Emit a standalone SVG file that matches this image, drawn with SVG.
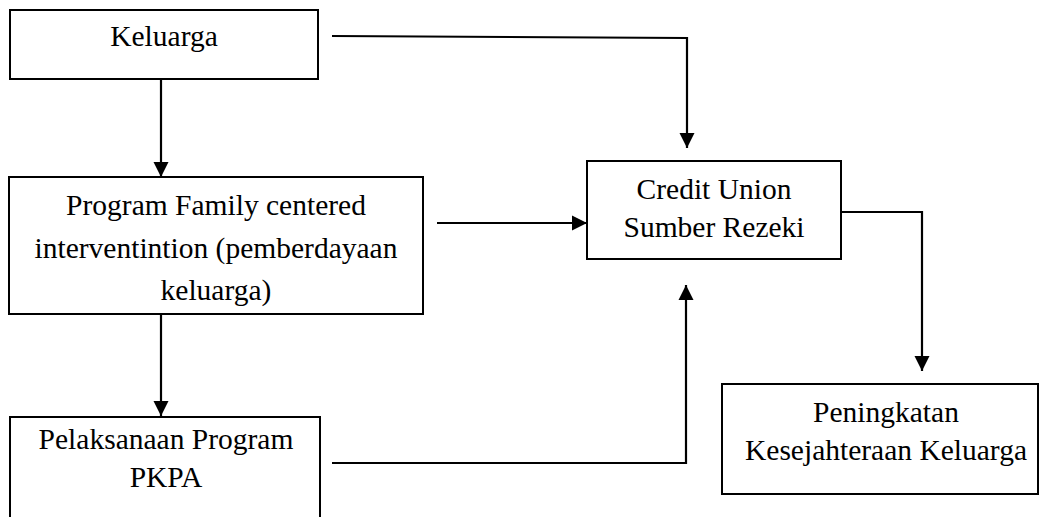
<svg xmlns="http://www.w3.org/2000/svg" width="1043" height="517" viewBox="0 0 1043 517">
<style>
.box{fill:#fff;stroke:#000;stroke-width:2}
.t{font-family:"Liberation Serif","Times New Roman",serif;font-size:29.5px;fill:#000;text-anchor:middle}
.c{fill:none;stroke:#000;stroke-width:2.2}
</style>
<defs>
<marker id="ah" markerWidth="16" markerHeight="16" refX="15" refY="8" orient="auto" markerUnits="userSpaceOnUse">
<path d="M0,0.5 L15,8 L0,15.5 Z" fill="#000"/>
</marker>
</defs>
<rect width="1043" height="517" fill="#fff"/>
<g id="n-keluarga">
<rect class="box" x="10" y="10" width="308" height="69"/>
<text class="t" x="164" y="46">Keluarga</text>
</g>
<g id="n-program">
<rect class="box" x="9" y="177" width="414" height="137"/>
<text class="t" x="216" y="215">Program Family centered</text>
<text class="t" x="216" y="258">interventintion (pemberdayaan</text>
<text class="t" x="216" y="300">keluarga)</text>
</g>
<g id="n-pelaksanaan">
<rect class="box" x="10" y="417" width="310" height="110"/>
<text class="t" x="166" y="449">Pelaksanaan Program</text>
<text class="t" x="166" y="487">PKPA</text>
</g>
<g id="n-credit">
<rect class="box" x="587" y="161" width="254" height="98"/>
<text class="t" x="714" y="199">Credit Union</text>
<text class="t" x="714" y="237">Sumber Rezeki</text>
</g>
<g id="n-peningkatan">
<rect class="box" x="722" y="384" width="316" height="110"/>
<text class="t" x="886" y="422">Peningkatan</text>
<text class="t" x="886" y="460">Kesejahteraan Keluarga</text>
</g>
<g id="connectors">
<path class="c" d="M332,36 L687,38 L687,148" marker-end="url(#ah)"/>
<path class="c" d="M161,79 L161,177" marker-end="url(#ah)"/>
<path class="c" d="M437,223 L587,223" marker-end="url(#ah)"/>
<path class="c" d="M161,314 L161,416" marker-end="url(#ah)"/>
<path class="c" d="M332,463 L686,463 L686,285" marker-end="url(#ah)"/>
<path class="c" d="M841,212 L922,212 L922,371" marker-end="url(#ah)"/>
</g>
</svg>
